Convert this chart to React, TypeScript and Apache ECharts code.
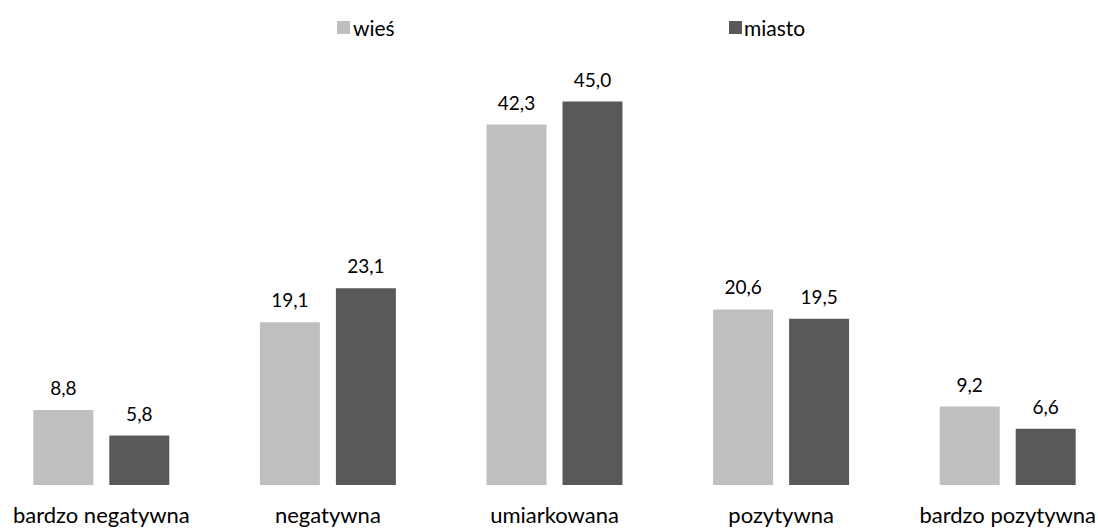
import React, { useEffect, useRef } from "react";
import * as echarts from "echarts";

const categories = ["bardzo negatywna", "negatywna", "umiarkowana", "pozytywna", "bardzo pozytywna"];
const wiesValues = [8.8, 19.1, 42.3, 20.6, 9.2];
const miastoValues = [5.8, 23.1, 45.0, 19.5, 6.6];
const seriesNames = ["wieś", "miasto"];

const FONT = "Lato, 'Open Sans', sans-serif";
const OFFSET = 12;

export default function App() {
  const ref = useRef<HTMLDivElement>(null);
  useEffect(() => {
    if (!ref.current) return;
    const chart = echarts.init(ref.current, null, { renderer: "svg" });
    const fmt = (p: any) => Number(p.value).toFixed(1).replace(".", ",");
    const labelStyle = {
      show: true,
      position: "top",
      distance: 13,
      color: "#000",
      fontSize: 19,
      fontFamily: FONT,
      formatter: fmt,
    };
    chart.setOption({
      animation: false,
      textStyle: { fontFamily: FONT },
      legend: [
        {
          data: [seriesNames[0]],
          left: 332 + OFFSET,
          top: 12,
          icon: "rect",
          itemWidth: 13,
          itemHeight: 13,
          itemGap: 6,
          textStyle: { fontSize: 21, color: "#000", fontFamily: FONT, padding: [0, 0, 0, -2] },
        },
        {
          data: [seriesNames[1]],
          left: 724 + OFFSET,
          top: 12,
          icon: "rect",
          itemWidth: 13,
          itemHeight: 13,
          textStyle: { fontSize: 21, color: "#000", fontFamily: FONT, padding: [0, 0, 0, -3] },
        },
      ],
      grid: { left: 0, right: 0, top: 59, bottom: 44, containLabel: false },
      xAxis: {
        type: "category",
        data: categories,
        axisLine: { show: false },
        axisTick: { show: false },
        axisLabel: { color: "#000", fontSize: 22, margin: 18, fontFamily: FONT, interval: 0 },
      },
      yAxis: {
        type: "value",
        min: 0,
        max: 50,
        show: false,
        splitLine: { show: false },
      },
      series: [
        {
          name: seriesNames[0],
          type: "bar",
          data: wiesValues,
          itemStyle: { color: "#bfbfbf" },
          barGap: "26.7%",
          barCategoryGap: "40%",
          label: labelStyle,
        },
        {
          name: seriesNames[1],
          type: "bar",
          data: miastoValues,
          itemStyle: { color: "#595959" },
          barGap: "26.7%",
          barCategoryGap: "40%",
          label: labelStyle,
        },
      ],
    });
    return () => chart.dispose();
  }, []);
  return (
    <div
      ref={ref}
      style={{ position: "fixed", left: -OFFSET, top: 0, width: 1133, height: 529, background: "#fff" }}
    />
  );
}
